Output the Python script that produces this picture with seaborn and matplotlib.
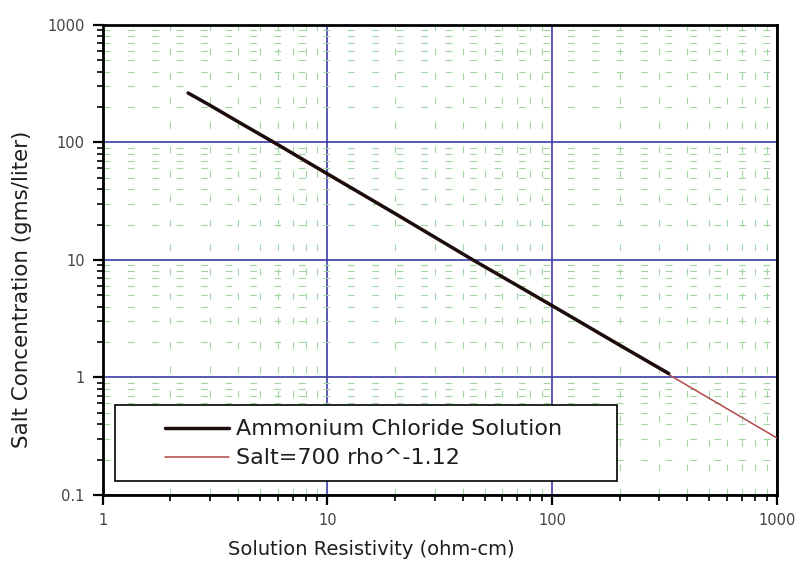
import numpy as np
import pandas as pd
import matplotlib
matplotlib.use("Agg")
import matplotlib.pyplot as plt
from matplotlib.ticker import FixedLocator, FixedFormatter, NullFormatter, LogLocator
from matplotlib.patches import Rectangle
import seaborn as sns

# Measured resistivity / concentration pairs for the ammonium chloride solution
resistivity = [2.4, 3, 4, 6, 10, 20, 44, 100, 200, 330]
concentration = [263, 207, 150, 96, 54, 24.8, 10.1, 4.08, 1.88, 1.08]

# Power-law fit: Salt = 700 * rho^-1.12, drawn across this resistivity span
fit_coef = 700
fit_power = -1.12
fit_range = [2.4, 1000]

x_ticks = [1, 10, 100, 1000]
x_tick_labels = ["1", "10", "100", "1000"]
y_ticks = [0.1, 1, 10, 100, 1000]
y_tick_labels = ["0.1", "1", "10", "100", "1000"]

series_names = ["Ammonium Chloride Solution", "Salt=700 rho^-1.12"]

meas_df = pd.DataFrame({"rho": resistivity, "salt": concentration})
fit_x = np.array(fit_range, dtype=float)
fit_df = pd.DataFrame({"rho": fit_x, "salt": fit_coef * fit_x ** fit_power})

sns.set_theme(style="white")
plt.rcParams["font.family"] = ["DejaVu Sans"]

fig = plt.figure(figsize=(7.96, 5.65), dpi=100)
ax = fig.add_axes([0.129, 0.124, 0.847, 0.832])
ax.set_xscale("log")
ax.set_yscale("log")

sns.lineplot(data=fit_df, x="rho", y="salt", ax=ax, color="#b04a4a",
             linewidth=1.1, zorder=3, label=series_names[1])
sns.lineplot(data=meas_df, x="rho", y="salt", ax=ax, color="#1c0c0c",
             linewidth=2.5, zorder=4, label=series_names[0])

ax.set_xlim(x_ticks[0], x_ticks[-1])
ax.set_ylim(y_ticks[0], y_ticks[-1])

ax.xaxis.set_major_locator(FixedLocator(x_ticks))
ax.xaxis.set_major_formatter(FixedFormatter(x_tick_labels))
ax.yaxis.set_major_locator(FixedLocator(y_ticks))
ax.yaxis.set_major_formatter(FixedFormatter(y_tick_labels))
for axis in (ax.xaxis, ax.yaxis):
    axis.set_minor_locator(LogLocator(base=10, subs=np.arange(2, 10), numticks=20))
    axis.set_minor_formatter(NullFormatter())

ax.grid(which="major", color="#3c3ca6", linewidth=1.2, linestyle="-", zorder=1)
ax.grid(which="minor", color="#9fd69f", linewidth=0.8, linestyle=(0, (6, 16)), zorder=1)
ax.set_axisbelow(True)

for side in ("left", "right", "top", "bottom"):
    ax.spines[side].set_color("black")
    ax.spines[side].set_linewidth(2)

ax.tick_params(which="major", direction="out", length=7, width=1.6, color="black",
               labelsize=10.5, labelcolor="#444444", pad=6)
ax.tick_params(which="minor", direction="out", length=4, width=1.2, color="black")
ax.tick_params(axis="x", which="both", bottom=True, top=False)
ax.tick_params(axis="y", which="both", left=True, right=False)

ax.set_xlabel("Solution Resistivity (ohm-cm)", fontsize=14, color="#1e1e1e")
ax.set_ylabel("Salt Concentration (gms/liter)", fontsize=15.4, color="#1e1e1e")
ax.xaxis.set_label_coords(0.398, -0.095)
ax.yaxis.set_label_coords(-0.105, 0.438)

# Legend box drawn as a plain rectangle, entries placed inside it
ax.add_patch(Rectangle((0.019, 0.030), 0.744, 0.161, transform=ax.transAxes,
                       facecolor="white", edgecolor="black", linewidth=1.2, zorder=5))
handles, labels = ax.get_legend_handles_labels()
order = [labels.index(n) for n in series_names]
leg = ax.legend([handles[i] for i in order], [labels[i] for i in order],
                loc="center left", bbox_to_anchor=(0.092, 0.1086), frameon=False,
                fontsize=16, handlelength=2.9, handletextpad=0.3, labelspacing=0.4,
                borderpad=0, borderaxespad=0)
leg.set_zorder(6)
for t in leg.get_texts():
    t.set_color("#1e1e1e")

fig.savefig("out.png", dpi=100, facecolor="white")
